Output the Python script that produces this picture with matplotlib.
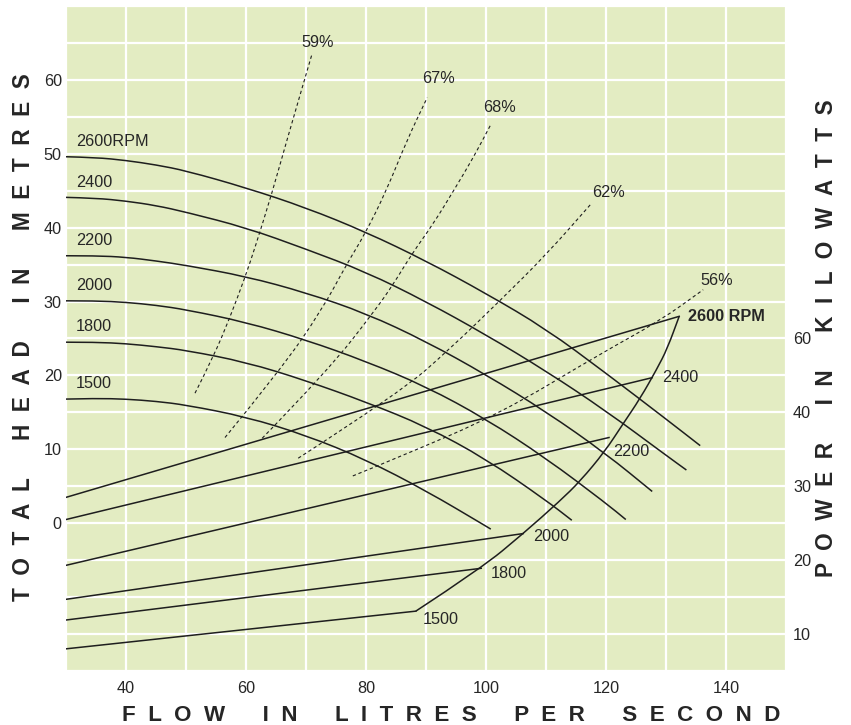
import matplotlib
matplotlib.use('Agg')
import matplotlib.pyplot as plt
from matplotlib.path import Path
from matplotlib.patches import PathPatch

plt.rcParams['font.family'] = ['Liberation Sans', 'DejaVu Sans']

# head curves (flow l/s, head m)
rpm_left = ['2600RPM', '2400', '2200', '2000', '1800', '1500']
q_2600 = [30, 35, 40, 45, 50, 60, 70, 80, 90, 100, 110, 120, 130, 135.7]
h_2600 = [49.6, 49.5, 49.1, 48.5, 47.7, 45.4, 42.7, 39.4, 35.5, 31.1, 26.3, 20.3, 14.1, 10.5]
q_2400 = [30, 35, 40, 45, 50, 60, 70, 80, 90, 100, 110, 120, 130, 133.4]
h_2400 = [44.1, 44.0, 43.6, 43.0, 42.1, 40.0, 37.1, 34.0, 30.0, 25.5, 20.6, 15.2, 9.2, 7.2]
q_2200 = [30, 35, 40, 45, 50, 60, 70, 80, 90, 100, 110, 120, 127.7]
h_2200 = [36.2, 36.2, 36.0, 35.5, 34.9, 33.4, 31.2, 28.4, 24.6, 20.1, 15.1, 9.4, 4.3]
q_2000 = [30, 35, 40, 45, 50, 60, 70, 80, 90, 100, 110, 120, 123.3]
h_2000 = [30.1, 30.1, 29.9, 29.5, 28.9, 27.2, 24.8, 21.9, 18.5, 14.1, 8.8, 2.7, 0.5]
q_1800 = [30, 35, 40, 45, 50, 60, 70, 80, 90, 100, 110, 114.3]
h_1800 = [24.5, 24.5, 24.3, 23.9, 23.4, 21.8, 19.3, 16.4, 13.1, 8.7, 3.1, 0.4]
q_1500 = [30, 35, 40, 45, 50, 60, 70, 80, 90, 100, 100.8]
h_1500 = [16.8, 16.9, 16.8, 16.5, 16.0, 14.4, 11.9, 8.6, 4.4, -0.4, -0.8]

# efficiency lines (dashed)
eff_labels = ['59%', '67%', '68%', '62%', '56%']
q_59 = [51.5, 54.5, 57.3, 59.8, 61.5, 64.3, 66.8, 71.0]
h_59 = [17.6, 22.4, 27.8, 33.2, 37.3, 44.6, 51.8, 63.5]
q_67 = [56.5, 65.7, 72.6, 76.8, 79.8, 83.4, 86.8, 90.2]
h_67 = [11.6, 20.7, 28.8, 35.1, 39.1, 45.0, 51.8, 57.6]
q_68 = [62.7, 73.7, 81.5, 84.6, 87.6, 91.2, 94.6, 97.9, 100.7]
h_68 = [11.5, 20.7, 28.8, 32.4, 36.4, 40.5, 45.0, 49.5, 53.8]
q_62 = [68.7, 85.7, 94.0, 102.3, 110.1, 117.6]
h_62 = [8.8, 17.7, 23.6, 30.1, 36.4, 43.3]
q_56 = [77.8, 85.7, 102.3, 119.0, 129.0, 136.2]
h_56 = [6.4, 9.0, 14.8, 22.9, 27.4, 31.6]

# power lines (flow, kW on right scale)
rpm_right = ['2600 RPM', '2400', '2200', '2000', '1800', '1500']
p_q0 = [30, 30, 30, 30, 30, 30]
p_start = [28.5, 25.5, 19.3, 14.7, 11.9, 8.0]
p_q1 = [132.2, 127.7, 120.5, 106.2, 99.2, 88.3]
p_end = [53.0, 44.7, 36.6, 23.6, 18.9, 13.1]
env_q = [88.3, 99.2, 106.2, 112.3, 115.7, 119.8, 122.8, 125.7, 128.5, 130.2, 132.2]
env_p = [13.1, 18.9, 23.6, 28.0, 30.7, 34.7, 38.4, 41.9, 45.9, 48.6, 53.0]
kw_ticks = [10, 20, 30, 40, 50]
kw_labels = ['10', '20', '30', '40', '60']

ink = '#1e1e1e'
txt = '#262626'
fs = 11.7


def smooth(axis, q, h, **kw):
    # quadratic bezier through midpoints, so the pen line has no corners
    pts = list(zip(q, h))
    verts = [pts[0]]
    codes = [Path.MOVETO]
    for i in range(1, len(pts) - 1):
        a, b = pts[i], pts[i + 1]
        verts += [a, ((a[0] + b[0]) / 2, (a[1] + b[1]) / 2)]
        codes += [Path.CURVE3, Path.CURVE3]
    verts.append(pts[-1])
    codes.append(Path.LINETO)
    axis.add_patch(PathPatch(Path(verts, codes), fill=False, **kw))


fig = plt.figure(figsize=(8.51, 7.25), dpi=100)
ax = fig.add_axes([66 / 851, 1 - 671 / 725, 720 / 851, 665 / 725])
ax.set_facecolor('#e3ecc2')
ax.set_xlim(30, 150)
ax.set_ylim(-20, 70)
ax.set_xticks(range(40, 141, 20))
ax.set_xticks(range(30, 151, 10), minor=True)
ax.set_yticks(range(0, 61, 10))
ax.set_yticks(range(-20, 71, 5), minor=True)
ax.grid(which='both', color='white', lw=1.6)
ax.set_axisbelow(True)
ax.tick_params(which='both', length=0, labelsize=fs, colors=txt)
ax.tick_params(axis='x', pad=7)
ax.tick_params(axis='y', pad=3)
for s in ax.spines.values():
    s.set_visible(False)

heads = [(q_2600, h_2600), (q_2400, h_2400), (q_2200, h_2200),
         (q_2000, h_2000), (q_1800, h_1800), (q_1500, h_1500)]
for (q, h), lab in zip(heads, rpm_left):
    smooth(ax, q, h, edgecolor=ink, lw=1.1)
    ax.annotate(lab, (q[0], h[0]), xytext=(7, 11), textcoords='offset points',
                ha='left', va='center', fontsize=fs, color=txt)

effs = [(q_59, h_59), (q_67, h_67), (q_68, h_68), (q_62, h_62), (q_56, h_56)]
eff_off = [(4, 8), (8, 14), (7, 13), (12, 8), (10, 7)]
for (q, h), lab, off in zip(effs, eff_labels, eff_off):
    smooth(ax, q, h, edgecolor=ink, lw=0.8, ls=(0, (3, 2.5)))
    ax.annotate(lab, (q[-1], h[-1]), xytext=off, textcoords='offset points',
                ha='center', va='center', fontsize=fs, color=txt)

ax2 = ax.twinx()
ax2.set_ylim(5, 95)
ax2.set_yticks(kw_ticks)
ax2.set_yticklabels(kw_labels)
ax2.tick_params(length=0, labelsize=fs, colors=txt, pad=5)
for s in ax2.spines.values():
    s.set_visible(False)

rr_off = [(6, 0), (7, 0), (3, -10), (7, -2), (7, -4), (5, -6)]
for i, lab in enumerate(rpm_right):
    ax2.plot([p_q0[i], p_q1[i]], [p_start[i], p_end[i]], color=ink, lw=1.1)
    ax2.annotate(lab, (p_q1[i], p_end[i]), xytext=rr_off[i], textcoords='offset points',
                 ha='left', va='center', fontsize=fs, color=txt,
                 fontweight='bold' if i == 0 else 'normal')
smooth(ax2, env_q, env_p, edgecolor=ink, lw=1.1)


def spaced(s, gap=2, wgap=6):
    return (' ' * wgap).join((' ' * gap).join(w) for w in s.split())


fig.text(451.5 / 851, 1 - 721 / 725, spaced('FLOW IN LITRES PER SECOND'),
         ha='center', va='baseline', fontsize=16.1, fontweight='bold', color=txt)
fig.text(23.5 / 851, 1 - 337 / 725, spaced('TOTAL HEAD IN METRES'), rotation=90,
         ha='center', va='center', fontsize=16.3, fontweight='bold', color=txt)
fig.text(826.5 / 851, 1 - 338 / 725, spaced('POWER IN KILOWATTS'), rotation=90,
         ha='center', va='center', fontsize=16.3, fontweight='bold', color=txt)

fig.savefig('out.png', dpi=100, facecolor='white')
